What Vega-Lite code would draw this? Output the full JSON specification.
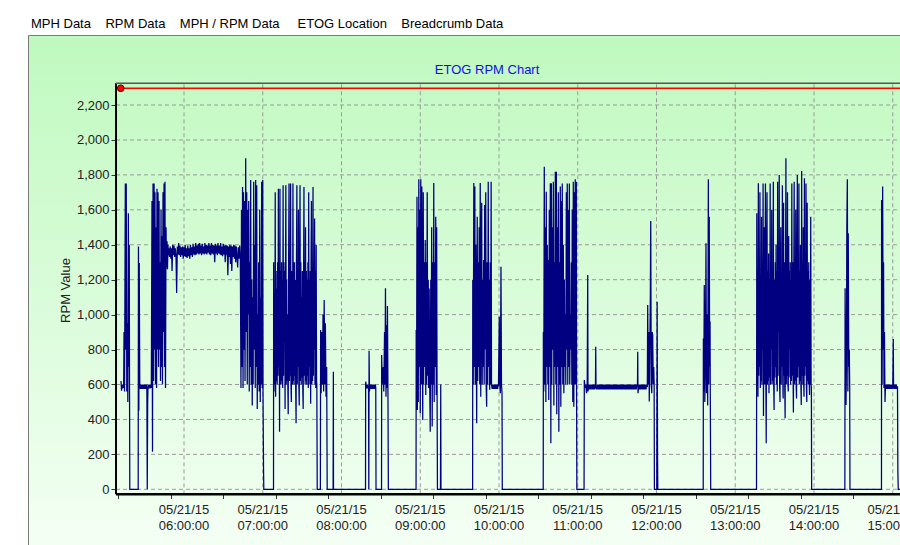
{
"$schema": "https://vega.github.io/schema/vega-lite/v6.json",
"width": 872, "height": 510,
"autosize": {"type": "none"},
"padding": {"left": 28, "top": 35, "right": 0, "bottom": 0},
"background": "white",
"title": {"text": "MPH Data\u00a0\u00a0\u00a0\u00a0RPM Data\u00a0\u00a0\u00a0\u00a0MPH / RPM Data\u00a0\u00a0\u00a0\u00a0\u00a0ETOG Location\u00a0\u00a0\u00a0\u00a0Breadcrumb Data", "anchor": "start", "frame": "group", "dx": 3, "offset": 4, "font": "Liberation Sans", "fontSize": 13, "fontWeight": "normal", "color": "#000000"},
"config": {"view": {"stroke": "#7a7a7a", "strokeWidth": 1, "fill": {"gradient": "linear", "x1": 0, "y1": 0, "x2": 0, "y2": 1, "stops": [{"offset": 0, "color": "#bff9bf"}, {"offset": 0.5, "color": "#d9fcd9"}, {"offset": 1, "color": "#f4fff4"}]}}},
"datasets": {"hours": [{"m":360,"d":"05/21/15","t":"06:00:00"},{"m":420,"d":"05/21/15","t":"07:00:00"},{"m":480,"d":"05/21/15","t":"08:00:00"},{"m":540,"d":"05/21/15","t":"09:00:00"},{"m":600,"d":"05/21/15","t":"10:00:00"},{"m":660,"d":"05/21/15","t":"11:00:00"},{"m":720,"d":"05/21/15","t":"12:00:00"},{"m":780,"d":"05/21/15","t":"13:00:00"},{"m":840,"d":"05/21/15","t":"14:00:00"},{"m":900,"d":"05/21/15","t":"15:00:00"}]},
"layer": [
{"data": {"values": [{"v":0},{"v":200},{"v":400},{"v":600},{"v":800},{"v":1000},{"v":1200},{"v":1400},{"v":1600},{"v":1800},{"v":2000},{"v":2200}]},
 "mark": {"type": "rule", "color": "#9a9a9a", "strokeDash": [4, 3], "strokeWidth": 1},
 "encoding": {"y": {"field": "v", "type": "quantitative"}, "x": {"datum": 308.2}, "x2": {"datum": 905.5}}},
{"data": {"name": "hours"},
 "mark": {"type": "rule", "color": "#9a9a9a", "strokeDash": [4, 3], "strokeWidth": 1},
 "encoding": {"x": {"field": "m", "type": "quantitative"}, "y": {"datum": -28.6}, "y2": {"datum": 2325}}},
{"data": {"values": [{}]}, "mark": {"type": "rule", "color": "#ff0000", "strokeWidth": 1.5},
 "encoding": {"x": {"datum": 311.8}, "x2": {"datum": 905.5}, "y": {"datum": 2296}}},
{"data": {"values": [
{"m":312.0,"v":620},{"m":312.4,"v":565},{"m":312.8,"v":600},{"m":313.2,"v":578},{"m":313.6,"v":600},{"m":314.0,"v":580},{"m":314.3,"v":900},{"m":314.7,"v":560},{"m":315.3,"v":1750},{"m":315.7,"v":800},{"m":316.0,"v":1750},{"m":316.4,"v":560},{"m":316.8,"v":950},{"m":317.2,"v":500},{"m":317.6,"v":1580},{"m":318.0,"v":700},{"m":318.3,"v":1400},{"m":318.5,"v":560},{"m":318.7,"v":0},
{"m":325.1,"v":0},{"m":325.3,"v":1390},{"m":325.6,"v":450},{"m":325.9,"v":1296},{"m":326.3,"v":600},{"m":326.7,"v":575},{"m":327.2,"v":600},{"m":327.7,"v":575},{"m":328.2,"v":600},{"m":328.7,"v":575},{"m":329.2,"v":600},{"m":329.7,"v":575},{"m":330.2,"v":600},{"m":330.7,"v":575},{"m":331.2,"v":600},{"m":331.7,"v":580},{"m":332.0,"v":0},{"m":332.3,"v":480},{"m":332.6,"v":600},{"m":333.1,"v":578},{"m":333.6,"v":600},{"m":334.1,"v":578},{"m":334.6,"v":600},{"m":335.1,"v":580},
{"m":335.6,"v":1650},{"m":336.0,"v":215},{"m":336.4,"v":1750},{"m":336.8,"v":620},{"m":337.2,"v":1750},{"m":337.5,"v":800},{"m":337.9,"v":1700},{"m":338.3,"v":600},{"m":338.7,"v":1500},{"m":339.1,"v":580},{"m":339.4,"v":1720},{"m":339.8,"v":800},{"m":340.2,"v":1700},{"m":340.6,"v":700},{"m":341.0,"v":1650},{"m":341.3,"v":800},{"m":341.7,"v":1300},{"m":342.1,"v":620},{"m":342.5,"v":1600},{"m":342.9,"v":700},{"m":343.2,"v":1450},{"m":343.6,"v":600},{"m":344.0,"v":1700},{"m":344.4,"v":900},{"m":344.8,"v":1750},{"m":345.2,"v":700},{"m":345.5,"v":1760},{"m":345.9,"v":580},{"m":346.3,"v":1500},{"m":346.7,"v":1270},{"m":347.1,"v":1420},{"m":347.4,"v":1260},{"m":347.8,"v":1400},{"m":348.2,"v":1340},
{"m":348.5,"v":1380},{"m":349.0,"v":1330},{"m":349.5,"v":1390},{"m":350.0,"v":1320},{"m":350.5,"v":1380},{"m":350.9,"v":1250},{"m":351.4,"v":1400},{"m":351.9,"v":1340},{"m":352.4,"v":1395},{"m":352.9,"v":1330},{"m":353.4,"v":1380},{"m":353.9,"v":1340},{"m":354.4,"v":1124},{"m":354.9,"v":1390},{"m":355.4,"v":1345},{"m":355.9,"v":1410},{"m":356.4,"v":1340},{"m":356.9,"v":1395},{"m":357.4,"v":1330},{"m":357.9,"v":1385},{"m":358.4,"v":1340},{"m":358.9,"v":1390},{"m":359.4,"v":1320},{"m":359.9,"v":1385},{"m":360.4,"v":1335},{"m":360.9,"v":1400},{"m":361.4,"v":1330},{"m":361.9,"v":1380},{"m":362.4,"v":1325},{"m":362.9,"v":1395},{"m":363.4,"v":1335},{"m":363.9,"v":1380},{"m":364.4,"v":1320},{"m":364.9,"v":1400},{"m":365.4,"v":1340},{"m":365.9,"v":1385},{"m":366.4,"v":1330},{"m":366.9,"v":1405},{"m":367.4,"v":1345},{"m":367.9,"v":1390},{"m":368.4,"v":1340},{"m":368.9,"v":1410},{"m":369.4,"v":1345},{"m":369.9,"v":1395},{"m":370.4,"v":1350},{"m":370.9,"v":1405},{"m":371.4,"v":1345},{"m":371.9,"v":1410},{"m":372.4,"v":1350},{"m":372.9,"v":1395},{"m":373.4,"v":1340},{"m":373.9,"v":1405},{"m":374.4,"v":1350},{"m":374.9,"v":1390},{"m":375.4,"v":1345},{"m":375.9,"v":1410},{"m":376.4,"v":1350},{"m":376.9,"v":1400},{"m":377.4,"v":1345},{"m":377.9,"v":1395},{"m":378.4,"v":1355},{"m":378.9,"v":1410},{"m":379.4,"v":1345},{"m":379.9,"v":1395},{"m":380.4,"v":1340},{"m":380.9,"v":1410},{"m":381.4,"v":1350},{"m":381.9,"v":1400},{"m":382.4,"v":1345},{"m":382.9,"v":1395},{"m":383.4,"v":1300},{"m":383.9,"v":1405},{"m":384.4,"v":1350},{"m":384.9,"v":1395},{"m":385.4,"v":1340},{"m":385.9,"v":1410},{"m":386.4,"v":1350},{"m":386.9,"v":1395},{"m":387.4,"v":1345},{"m":387.9,"v":1410},{"m":388.4,"v":1340},{"m":388.9,"v":1390},{"m":389.4,"v":1335},{"m":389.9,"v":1405},{"m":390.4,"v":1345},{"m":390.9,"v":1395},{"m":391.4,"v":1300},{"m":391.9,"v":1400},{"m":392.4,"v":1340},{"m":392.9,"v":1395},{"m":393.4,"v":1226},{"m":393.9,"v":1390},{"m":394.4,"v":1330},{"m":394.9,"v":1400},{"m":395.4,"v":1290},{"m":395.9,"v":1395},{"m":396.4,"v":1250},{"m":396.9,"v":1390},{"m":397.4,"v":1330},{"m":397.9,"v":1400},{"m":398.4,"v":1320},{"m":398.9,"v":1395},{"m":399.4,"v":1300},{"m":399.9,"v":1390},{"m":400.4,"v":1330},{"m":400.9,"v":1270},{"m":401.4,"v":1385},{"m":401.9,"v":1320},{"m":402.4,"v":1395},{"m":402.9,"v":1330},
{"m":403.4,"v":580},{"m":403.8,"v":1600},{"m":404.2,"v":700},{"m":404.6,"v":1730},{"m":405.0,"v":580},{"m":405.3,"v":1700},{"m":405.7,"v":800},{"m":406.1,"v":1650},{"m":406.5,"v":620},{"m":407.0,"v":1895},{"m":407.4,"v":900},{"m":407.8,"v":1700},{"m":408.2,"v":600},{"m":408.5,"v":1600},{"m":408.9,"v":1000},{"m":409.3,"v":1650},{"m":409.7,"v":560},{"m":410.1,"v":1300},{"m":410.4,"v":700},{"m":410.8,"v":1770},{"m":411.2,"v":600},{"m":411.6,"v":1200},{"m":412.0,"v":480},{"m":412.3,"v":1100},{"m":412.7,"v":600},{"m":413.1,"v":1760},{"m":413.5,"v":800},{"m":413.9,"v":1400},{"m":414.3,"v":580},{"m":414.6,"v":1770},{"m":415.0,"v":700},{"m":415.4,"v":1740},{"m":415.8,"v":460},{"m":416.2,"v":1000},{"m":416.5,"v":600},{"m":416.9,"v":1300},{"m":417.3,"v":560},{"m":417.7,"v":1600},{"m":418.1,"v":500},{"m":418.4,"v":1100},{"m":418.8,"v":600},{"m":419.2,"v":1760},{"m":419.6,"v":580},{"m":420.0,"v":1770},{"m":420.2,"v":550},{"m":420.6,"v":120},{"m":420.8,"v":0},
{"m":428.2,"v":0},{"m":428.3,"v":1300},{"m":428.6,"v":560},{"m":428.9,"v":1100},{"m":429.2,"v":600},{"m":429.5,"v":1700},{"m":429.8,"v":530},{"m":430.1,"v":1250},{"m":430.4,"v":620},{"m":430.7,"v":1150},{"m":431.0,"v":600},{"m":431.3,"v":1300},{"m":431.6,"v":650},{"m":431.9,"v":1720},{"m":432.2,"v":700},{"m":432.5,"v":1200},{"m":432.8,"v":330},{"m":433.1,"v":1720},{"m":433.4,"v":600},{"m":433.7,"v":1250},{"m":434.0,"v":620},{"m":434.3,"v":1300},{"m":434.6,"v":600},{"m":434.9,"v":1200},{"m":435.2,"v":580},{"m":435.5,"v":1740},{"m":435.8,"v":650},{"m":436.1,"v":1300},{"m":436.4,"v":1000},{"m":436.7,"v":1250},{"m":437.0,"v":460},{"m":437.3,"v":1150},{"m":437.6,"v":1740},{"m":437.9,"v":600},{"m":438.2,"v":1200},{"m":438.5,"v":620},{"m":438.8,"v":1000},{"m":439.1,"v":600},{"m":439.4,"v":430},{"m":439.7,"v":1300},{"m":440.0,"v":1750},{"m":440.3,"v":620},{"m":440.6,"v":1200},{"m":440.9,"v":650},{"m":441.2,"v":1750},{"m":441.5,"v":600},{"m":441.8,"v":500},{"m":442.1,"v":1250},{"m":442.4,"v":1000},{"m":442.7,"v":600},{"m":443.0,"v":1750},{"m":443.3,"v":620},{"m":443.6,"v":1300},{"m":443.9,"v":600},{"m":444.2,"v":1300},{"m":444.5,"v":650},{"m":444.8,"v":1200},{"m":445.1,"v":580},{"m":445.4,"v":378},{"m":445.7,"v":1300},{"m":446.0,"v":1740},{"m":446.3,"v":600},{"m":446.6,"v":1250},{"m":446.9,"v":700},{"m":447.2,"v":1600},{"m":447.5,"v":600},{"m":447.8,"v":480},{"m":448.1,"v":1200},{"m":448.4,"v":1740},{"m":448.7,"v":620},{"m":449.0,"v":1300},{"m":449.3,"v":600},{"m":449.6,"v":1100},{"m":449.9,"v":640},{"m":450.2,"v":1250},{"m":450.5,"v":580},{"m":450.8,"v":460},{"m":451.1,"v":1200},{"m":451.4,"v":1730},{"m":451.7,"v":650},{"m":452.0,"v":1300},{"m":452.3,"v":600},{"m":452.6,"v":1500},{"m":452.9,"v":620},{"m":453.2,"v":1250},{"m":453.5,"v":600},{"m":453.8,"v":1200},{"m":454.1,"v":650},{"m":454.4,"v":1300},{"m":454.7,"v":580},{"m":455.0,"v":1700},{"m":455.3,"v":600},{"m":455.6,"v":1200},{"m":455.9,"v":700},{"m":456.2,"v":1250},{"m":456.5,"v":490},{"m":456.8,"v":1300},{"m":457.1,"v":1650},{"m":457.4,"v":600},{"m":457.7,"v":1200},{"m":458.0,"v":620},{"m":458.3,"v":1730},{"m":458.6,"v":650},{"m":458.9,"v":1300},{"m":459.2,"v":800},{"m":459.5,"v":1550},{"m":459.8,"v":600},{"m":460.1,"v":1250},{"m":460.4,"v":580},{"m":460.7,"v":1400},{"m":461.0,"v":620},{"m":461.2,"v":600},{"m":461.5,"v":0},
{"m":463.9,"v":0},{"m":464.1,"v":912},{"m":464.5,"v":550},{"m":465.0,"v":900},{"m":465.5,"v":600},{"m":465.9,"v":1000},{"m":466.4,"v":560},{"m":466.8,"v":1084},{"m":467.3,"v":600},{"m":467.7,"v":950},{"m":468.2,"v":530},{"m":468.7,"v":700},{"m":469.1,"v":0},
{"m":473.6,"v":0},{"m":473.8,"v":673},{"m":473.9,"v":0},
{"m":498.3,"v":0},{"m":498.4,"v":616},{"m":498.8,"v":600},{"m":499.3,"v":578},{"m":499.8,"v":600},{"m":500.3,"v":578},{"m":500.6,"v":590},{"m":500.8,"v":0},{"m":501.0,"v":793},{"m":501.3,"v":560},{"m":501.8,"v":600},{"m":502.3,"v":575},{"m":502.8,"v":600},{"m":503.3,"v":575},{"m":503.8,"v":600},{"m":504.3,"v":575},{"m":504.8,"v":600},{"m":505.3,"v":575},{"m":505.8,"v":600},{"m":506.1,"v":580},{"m":506.3,"v":0},
{"m":510.5,"v":0},{"m":510.6,"v":769},{"m":511.0,"v":600},{"m":511.8,"v":700},{"m":512.2,"v":560},{"m":512.8,"v":900},{"m":513.1,"v":600},{"m":513.5,"v":1151},{"m":513.9,"v":530},{"m":514.3,"v":941},{"m":514.7,"v":580},{"m":515.0,"v":1050},{"m":515.4,"v":540},{"m":515.7,"v":0},
{"m":536.8,"v":0},{"m":536.9,"v":912},{"m":537.2,"v":560},{"m":537.5,"v":1675},{"m":537.8,"v":454},{"m":538.1,"v":1500},{"m":538.5,"v":500},{"m":538.9,"v":1775},{"m":539.3,"v":700},{"m":539.7,"v":1600},{"m":540.0,"v":435},{"m":540.4,"v":1775},{"m":540.8,"v":600},{"m":541.2,"v":1733},{"m":541.6,"v":800},{"m":541.9,"v":397},{"m":542.3,"v":1700},{"m":542.6,"v":600},{"m":543.0,"v":1300},{"m":543.4,"v":700},{"m":543.8,"v":1427},{"m":544.2,"v":540},{"m":544.5,"v":1300},{"m":544.9,"v":600},{"m":545.3,"v":1700},{"m":545.7,"v":650},{"m":546.1,"v":1200},{"m":546.4,"v":580},{"m":546.8,"v":1150},{"m":547.2,"v":600},{"m":547.6,"v":330},{"m":548.0,"v":1200},{"m":548.3,"v":600},{"m":548.7,"v":1500},{"m":549.1,"v":359},{"m":549.5,"v":1300},{"m":549.9,"v":600},{"m":550.3,"v":1754},{"m":550.6,"v":500},{"m":551.0,"v":1300},{"m":551.4,"v":700},{"m":551.8,"v":1561},{"m":552.2,"v":540},{"m":552.5,"v":1500},{"m":552.8,"v":600},{"m":553.1,"v":0},
{"m":555.4,"v":0},{"m":555.6,"v":600},{"m":555.8,"v":0},
{"m":579.9,"v":0},{"m":580.0,"v":1200},{"m":580.4,"v":600},{"m":580.8,"v":1754},{"m":581.2,"v":700},{"m":581.6,"v":1733},{"m":581.9,"v":600},{"m":582.3,"v":1400},{"m":582.7,"v":800},{"m":583.0,"v":378},{"m":583.4,"v":1561},{"m":583.8,"v":620},{"m":584.2,"v":1300},{"m":584.5,"v":700},{"m":584.9,"v":1500},{"m":585.3,"v":600},{"m":585.7,"v":1754},{"m":586.1,"v":530},{"m":586.4,"v":1300},{"m":586.8,"v":1640},{"m":587.2,"v":600},{"m":587.6,"v":1200},{"m":588.0,"v":700},{"m":588.3,"v":1313},{"m":588.7,"v":600},{"m":589.1,"v":1628},{"m":589.5,"v":800},{"m":589.9,"v":1700},{"m":590.2,"v":600},{"m":590.6,"v":473},{"m":591.0,"v":1300},{"m":591.4,"v":600},{"m":591.8,"v":1760},{"m":592.2,"v":700},{"m":592.5,"v":1200},{"m":592.9,"v":570},{"m":593.3,"v":1300},{"m":593.7,"v":600},{"m":594.0,"v":1760},{"m":594.3,"v":600},{"m":594.8,"v":575},{"m":595.3,"v":600},{"m":595.8,"v":575},{"m":596.3,"v":600},{"m":596.8,"v":575},{"m":597.3,"v":600},{"m":597.8,"v":575},{"m":598.3,"v":600},{"m":598.8,"v":575},{"m":599.3,"v":600},{"m":599.6,"v":590},{"m":600.2,"v":988},{"m":600.6,"v":600},{"m":601.0,"v":550},{"m":601.5,"v":1274},{"m":601.9,"v":600},{"m":602.3,"v":550},{"m":602.5,"v":0},
{"m":633.7,"v":0},{"m":633.8,"v":900},{"m":634.1,"v":560},{"m":634.5,"v":1847},{"m":634.9,"v":600},{"m":635.3,"v":1500},{"m":635.7,"v":500},{"m":636.0,"v":1704},{"m":636.4,"v":700},{"m":636.8,"v":1400},{"m":637.2,"v":600},{"m":637.6,"v":1313},{"m":637.9,"v":511},{"m":638.3,"v":1600},{"m":638.7,"v":700},{"m":639.1,"v":1752},{"m":639.5,"v":263},{"m":639.9,"v":1752},{"m":640.2,"v":600},{"m":640.6,"v":1500},{"m":641.0,"v":800},{"m":641.4,"v":1760},{"m":641.8,"v":480},{"m":642.1,"v":1300},{"m":642.5,"v":700},{"m":642.9,"v":1818},{"m":643.3,"v":600},{"m":643.7,"v":1818},{"m":644.0,"v":430},{"m":644.4,"v":1500},{"m":644.8,"v":700},{"m":645.2,"v":1700},{"m":645.6,"v":330},{"m":645.9,"v":1300},{"m":646.3,"v":600},{"m":646.7,"v":1733},{"m":647.1,"v":473},{"m":647.5,"v":1650},{"m":647.8,"v":700},{"m":648.2,"v":1750},{"m":648.6,"v":600},{"m":649.0,"v":1400},{"m":649.4,"v":550},{"m":649.8,"v":1200},{"m":650.1,"v":700},{"m":650.5,"v":1000},{"m":650.9,"v":600},{"m":651.3,"v":1700},{"m":651.7,"v":800},{"m":652.0,"v":1750},{"m":652.4,"v":600},{"m":652.8,"v":1600},{"m":653.2,"v":700},{"m":653.6,"v":1750},{"m":653.9,"v":600},{"m":654.3,"v":1000},{"m":654.7,"v":800},{"m":655.1,"v":1300},{"m":655.5,"v":600},{"m":655.8,"v":1600},{"m":656.2,"v":500},{"m":656.6,"v":1760},{"m":657.0,"v":473},{"m":657.4,"v":1700},{"m":657.7,"v":600},{"m":658.1,"v":1775},{"m":658.5,"v":600},{"m":658.9,"v":1760},{"m":659.1,"v":560},{"m":659.3,"v":0},
{"m":664.8,"v":0},{"m":665.0,"v":626},{"m":665.5,"v":580},{"m":666.1,"v":600},{"m":666.7,"v":550},{"m":667.2,"v":600},{"m":667.6,"v":1227},{"m":667.8,"v":560},{"m":668.5,"v":600},{"m":669.0,"v":572},{"m":669.5,"v":600},{"m":670.0,"v":572},{"m":670.5,"v":600},{"m":671.0,"v":572},{"m":671.5,"v":600},{"m":672.0,"v":572},{"m":672.5,"v":600},{"m":673.0,"v":572},{"m":673.5,"v":600},{"m":673.7,"v":816},{"m":673.9,"v":585},{"m":674.5,"v":572},{"m":675.0,"v":600},{"m":675.5,"v":572},{"m":676.0,"v":600},{"m":676.5,"v":572},{"m":677.0,"v":600},{"m":677.5,"v":572},{"m":678.0,"v":600},{"m":678.5,"v":572},{"m":679.0,"v":600},{"m":679.5,"v":572},{"m":680.0,"v":600},{"m":680.5,"v":572},{"m":681.0,"v":600},{"m":681.5,"v":572},{"m":682.0,"v":600},{"m":682.5,"v":572},{"m":683.0,"v":600},{"m":683.5,"v":572},{"m":684.0,"v":600},{"m":684.5,"v":572},{"m":685.0,"v":600},{"m":685.5,"v":572},{"m":686.0,"v":600},{"m":686.5,"v":572},{"m":687.0,"v":600},{"m":687.5,"v":572},{"m":688.0,"v":600},{"m":688.5,"v":572},{"m":689.0,"v":600},{"m":689.5,"v":572},{"m":690.0,"v":600},{"m":690.5,"v":572},{"m":691.0,"v":600},{"m":691.5,"v":572},{"m":692.0,"v":600},{"m":692.5,"v":572},{"m":693.0,"v":600},{"m":693.5,"v":572},{"m":694.0,"v":600},{"m":694.5,"v":572},{"m":695.0,"v":600},{"m":695.5,"v":572},{"m":696.0,"v":600},{"m":696.5,"v":572},{"m":697.0,"v":600},{"m":697.5,"v":572},{"m":698.0,"v":600},{"m":698.5,"v":572},{"m":699.0,"v":600},{"m":699.5,"v":572},{"m":700.0,"v":600},{"m":700.5,"v":572},{"m":701.0,"v":600},{"m":701.5,"v":572},{"m":702.0,"v":600},{"m":702.5,"v":572},{"m":703.0,"v":600},{"m":703.5,"v":572},{"m":704.0,"v":600},{"m":704.5,"v":572},{"m":705.0,"v":600},{"m":705.5,"v":585},{"m":705.7,"v":788},{"m":705.9,"v":550},{"m":706.5,"v":600},{"m":707.0,"v":572},{"m":707.5,"v":600},{"m":708.0,"v":572},{"m":708.5,"v":600},{"m":709.0,"v":572},{"m":709.5,"v":600},{"m":710.0,"v":572},{"m":710.5,"v":600},{"m":711.0,"v":572},{"m":711.5,"v":600},{"m":712.0,"v":572},{"m":712.5,"v":600},{"m":713.0,"v":585},
{"m":713.3,"v":1055},{"m":713.7,"v":600},{"m":714.1,"v":900},{"m":714.5,"v":502},{"m":714.9,"v":800},{"m":715.3,"v":1100},{"m":715.6,"v":1536},{"m":716.0,"v":600},{"m":716.4,"v":550},{"m":716.7,"v":900},{"m":717.1,"v":883},{"m":717.5,"v":600},{"m":717.9,"v":700},{"m":718.2,"v":600},{"m":718.4,"v":0},
{"m":720.2,"v":0},{"m":720.5,"v":1074},{"m":720.8,"v":180},{"m":721.0,"v":0},
{"m":755.6,"v":0},{"m":755.7,"v":864},{"m":756.0,"v":560},{"m":756.4,"v":1169},{"m":756.8,"v":500},{"m":757.2,"v":700},{"m":757.7,"v":1408},{"m":758.1,"v":550},{"m":758.6,"v":1000},{"m":759.0,"v":480},{"m":759.5,"v":1775},{"m":759.8,"v":600},{"m":760.2,"v":1561},{"m":760.5,"v":700},{"m":760.8,"v":960},{"m":761.0,"v":530},{"m":761.3,"v":0},
{"m":796.2,"v":0},{"m":796.4,"v":1580},{"m":796.7,"v":600},{"m":797.0,"v":1250},{"m":797.3,"v":530},{"m":797.6,"v":1752},{"m":797.9,"v":650},{"m":798.2,"v":1300},{"m":798.5,"v":700},{"m":798.8,"v":1700},{"m":799.1,"v":580},{"m":799.4,"v":1200},{"m":799.7,"v":620},{"m":800.0,"v":1560},{"m":800.3,"v":600},{"m":800.6,"v":1250},{"m":800.9,"v":800},{"m":801.2,"v":1750},{"m":801.5,"v":420},{"m":801.8,"v":1300},{"m":802.1,"v":1500},{"m":802.4,"v":600},{"m":802.7,"v":1200},{"m":803.0,"v":1750},{"m":803.3,"v":650},{"m":803.6,"v":263},{"m":803.9,"v":1300},{"m":804.2,"v":1700},{"m":804.5,"v":600},{"m":804.8,"v":1250},{"m":805.1,"v":620},{"m":805.4,"v":1350},{"m":805.7,"v":550},{"m":806.0,"v":1200},{"m":806.3,"v":640},{"m":806.6,"v":1750},{"m":806.9,"v":600},{"m":807.2,"v":1300},{"m":807.5,"v":800},{"m":807.8,"v":1600},{"m":808.1,"v":600},{"m":808.4,"v":1250},{"m":808.7,"v":620},{"m":809.0,"v":1760},{"m":809.3,"v":600},{"m":809.6,"v":454},{"m":809.9,"v":1200},{"m":810.2,"v":640},{"m":810.5,"v":1300},{"m":810.8,"v":700},{"m":811.1,"v":1400},{"m":811.4,"v":600},{"m":811.7,"v":1250},{"m":812.0,"v":560},{"m":812.3,"v":1760},{"m":812.6,"v":650},{"m":812.9,"v":1300},{"m":813.2,"v":900},{"m":813.5,"v":1800},{"m":813.8,"v":600},{"m":814.1,"v":500},{"m":814.4,"v":1250},{"m":814.7,"v":1500},{"m":815.0,"v":600},{"m":815.3,"v":1200},{"m":815.6,"v":700},{"m":815.9,"v":1740},{"m":816.2,"v":620},{"m":816.5,"v":520},{"m":816.8,"v":1640},{"m":817.1,"v":650},{"m":817.4,"v":1300},{"m":817.7,"v":600},{"m":818.0,"v":406},{"m":818.3,"v":1250},{"m":818.6,"v":1895},{"m":818.9,"v":600},{"m":819.2,"v":1300},{"m":819.5,"v":650},{"m":819.8,"v":1700},{"m":820.1,"v":600},{"m":820.4,"v":560},{"m":820.7,"v":1450},{"m":821.0,"v":640},{"m":821.3,"v":1250},{"m":821.6,"v":800},{"m":821.9,"v":1300},{"m":822.2,"v":600},{"m":822.5,"v":1200},{"m":822.8,"v":620},{"m":823.1,"v":1750},{"m":823.4,"v":650},{"m":823.7,"v":1300},{"m":824.0,"v":700},{"m":824.3,"v":440},{"m":824.6,"v":1250},{"m":824.9,"v":1760},{"m":825.2,"v":600},{"m":825.5,"v":1300},{"m":825.8,"v":620},{"m":826.1,"v":1600},{"m":826.4,"v":600},{"m":826.7,"v":520},{"m":827.0,"v":1250},{"m":827.3,"v":1800},{"m":827.6,"v":640},{"m":827.9,"v":1300},{"m":828.2,"v":700},{"m":828.5,"v":1750},{"m":828.8,"v":600},{"m":829.1,"v":1250},{"m":829.4,"v":620},{"m":829.7,"v":1400},{"m":830.0,"v":600},{"m":830.3,"v":483},{"m":830.6,"v":1822},{"m":830.9,"v":650},{"m":831.2,"v":1300},{"m":831.5,"v":600},{"m":831.8,"v":1500},{"m":832.1,"v":620},{"m":832.4,"v":530},{"m":832.7,"v":1780},{"m":833.0,"v":650},{"m":833.3,"v":1250},{"m":833.6,"v":700},{"m":833.9,"v":1750},{"m":834.2,"v":600},{"m":834.5,"v":500},{"m":834.8,"v":1640},{"m":835.1,"v":620},{"m":835.4,"v":1250},{"m":835.7,"v":600},{"m":836.0,"v":1300},{"m":836.3,"v":620},{"m":836.6,"v":540},{"m":836.9,"v":1200},{"m":837.2,"v":600},{"m":837.5,"v":1561},{"m":837.8,"v":600},{"m":838.0,"v":580},{"m":838.2,"v":0},
{"m":863.5,"v":0},{"m":863.7,"v":1151},{"m":864.1,"v":600},{"m":864.4,"v":483},{"m":864.7,"v":700},{"m":865.0,"v":1500},{"m":865.4,"v":1775},{"m":865.8,"v":560},{"m":866.1,"v":1466},{"m":866.5,"v":700},{"m":866.9,"v":800},{"m":867.2,"v":580},{"m":867.4,"v":0},
{"m":891.4,"v":0},{"m":891.5,"v":1656},{"m":891.9,"v":600},{"m":892.3,"v":1733},{"m":892.7,"v":800},{"m":893.0,"v":1300},{"m":893.3,"v":580},{"m":893.7,"v":900},{"m":894.1,"v":500},{"m":894.5,"v":600},{"m":895.0,"v":575},{"m":895.5,"v":600},{"m":896.0,"v":575},{"m":896.5,"v":600},{"m":897.0,"v":575},{"m":897.5,"v":600},{"m":898.0,"v":575},{"m":898.5,"v":600},{"m":899.0,"v":575},{"m":899.5,"v":600},{"m":900.0,"v":575},{"m":900.4,"v":860},{"m":900.6,"v":600},{"m":901.1,"v":575},{"m":901.6,"v":600},{"m":902.1,"v":575},{"m":902.6,"v":600},{"m":903.1,"v":575},{"m":903.6,"v":590},{"m":903.9,"v":93},{"m":904.2,"v":0},{"m":905.5,"v":0}
]},
 "mark": {"type": "line", "color": "#000080", "strokeWidth": 1.25},
 "encoding": {
  "x": {"field": "m", "type": "quantitative",
        "scale": {"domain": [241.14, 905.52], "nice": false, "zero": false},
        "axis": {"orient": "bottom", "offset": -50.5, "domain": false, "grid": false, "title": null, "labels": false,
                 "values": [310,315,320,325,330,335,340,345,350,355,360,365,370,375,380,385,390,395,400,405,410,415,420,425,430,435,440,445,450,455,460,465,470,475,480,485,490,495,500,505,510,515,520,525,530,535,540,545,550,555,560,565,570,575,580,585,590,595,600,605,610,615,620,625,630,635,640,645,650,655,660,665,670,675,680,685,690,695,700,705,710,715,720,725,730,735,740,745,750,755,760,765,770,775,780,785,790,795,800,805,810,815,820,825,830,835,840,845,850,855,860,865,870,875,880,885,890,895,900,905],
                 "tickSize": 4, "tickColor": "#333333", "tickWidth": 1}},
  "y": {"field": "v", "type": "quantitative",
        "scale": {"domain": [-318.9, 2600.8], "nice": false, "zero": false},
        "axis": {"orient": "left", "offset": -88, "domain": false, "grid": false,
                 "values": [0,50,100,150,200,250,300,350,400,450,500,550,600,650,700,750,800,850,900,950,1000,1050,1100,1150,1200,1250,1300,1350,1400,1450,1500,1550,1600,1650,1700,1750,1800,1850,1900,1950,2000,2050,2100,2150,2200,2250,2300],
                 "tickSize": {"condition": {"test": "datum.value % 200 === 0", "value": 5}, "value": 3},
                 "tickColor": "#333333", "tickWidth": 1,
                 "labelExpr": "datum.value % 200 === 0 ? format(datum.value, ',') : ''",
                 "labelFont": "Liberation Sans", "labelFontSize": 13, "labelColor": "#222222", "labelPadding": 2,
                 "labelOverlap": false, "labelBound": false, "labelFlush": false,
                 "title": "RPM Value", "titleFont": "Liberation Sans", "titleFontSize": 13, "titleFontWeight": "normal", "titleColor": "#222222", "titlePadding": 4}}
 }},
{"data": {"name": "hours"},
 "mark": {"type": "text", "font": "Liberation Sans", "fontSize": 13, "color": "#222222", "align": "center", "baseline": "top"},
 "encoding": {"text": {"field": "d"}, "x": {"field": "m", "type": "quantitative"}, "y": {"datum": -87.0}}},
{"data": {"name": "hours"},
 "mark": {"type": "text", "font": "Liberation Sans", "fontSize": 13, "color": "#222222", "align": "center", "baseline": "top"},
 "encoding": {"text": {"field": "t"}, "x": {"field": "m", "type": "quantitative"}, "y": {"datum": -178.6}}},
{"data": {"values": [{}]}, "mark": {"type": "rule", "color": "#000000", "strokeWidth": 2},
 "encoding": {"x": {"datum": 308.2}, "y": {"datum": -28.6}, "y2": {"datum": 2325}}},
{"data": {"values": [{}]}, "mark": {"type": "rule", "color": "#000000", "strokeWidth": 2.5},
 "encoding": {"x": {"datum": 308.2}, "x2": {"datum": 905.5}, "y": {"datum": -28.6}}},
{"data": {"values": [{}]}, "mark": {"type": "rule", "color": "#555555", "strokeWidth": 1.5},
 "encoding": {"x": {"datum": 308.2}, "x2": {"datum": 905.5}, "y": {"datum": 2325}}},
{"data": {"values": [{}]}, "mark": {"type": "point", "filled": true, "fill": "#ff0000", "stroke": "#400000", "strokeWidth": 1, "size": 45, "opacity": 1},
 "encoding": {"x": {"datum": 311.8}, "y": {"datum": 2296}}},
{"data": {"values": [{"chart": "ETOG RPM Chart"}]}, "mark": {"type": "text", "font": "Liberation Sans", "fontSize": 13, "color": "#1010e8", "align": "center", "baseline": "middle"},
 "encoding": {"text": {"field": "chart"}, "x": {"datum": 590.9}, "y": {"datum": 2400}}}
]
}
